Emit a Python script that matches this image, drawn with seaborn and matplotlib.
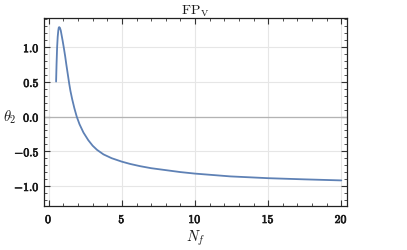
import matplotlib
matplotlib.use("Agg")
import matplotlib.pyplot as plt
import matplotlib.patheffects as pe
from matplotlib.ticker import MultipleLocator
import seaborn as sns
import pandas as pd

# values
nf = [0.50, 0.53, 0.57, 0.61, 0.65, 0.68, 0.71, 0.76, 0.82, 0.88, 0.95, 1.03,
      1.12, 1.20, 1.30, 1.40, 1.48, 1.60, 1.75, 1.91, 2.10, 2.37, 2.70, 3.00,
      3.30, 3.74, 4.30, 5.00, 5.57, 6.25, 7.00, 8.00, 9.00, 10.0, 12.4, 15.0,
      17.5, 20.0]
theta2 = [0.505, 0.75, 1.00, 1.15, 1.24, 1.28, 1.29, 1.28, 1.24, 1.17, 1.09, 0.99,
          0.87, 0.75, 0.61, 0.47, 0.37, 0.25, 0.12, 0.0, -0.11, -0.23, -0.34, -0.42,
          -0.48, -0.545, -0.60, -0.65, -0.683, -0.715, -0.744, -0.772, -0.80, -0.822,
          -0.862, -0.888, -0.905, -0.92]

xticks = [0, 5, 10, 15, 20]
yticks = [-1.0, -0.5, 0.0, 0.5, 1.0]

df = pd.DataFrame({"Nf": nf, "theta2": theta2})

sns.set_theme(style="ticks")
plt.rcParams["font.family"] = ["DejaVu Serif"]
plt.rcParams["mathtext.fontset"] = "cm"

fig = plt.figure(figsize=(4.07, 2.51), dpi=100)
ax = fig.add_axes([0.108, 0.175, 0.745, 0.749])

ax.grid(True, color="#e6e6e6", lw=0.8, zorder=0)
ax.axhline(0, color="#b3b3b3", lw=0.9, zorder=1)
sns.lineplot(data=df, x="Nf", y="theta2", ax=ax, color="#5e81b5", lw=1.3,
             sort=False, estimator=None, zorder=3)
ax.lines[-1].set_solid_joinstyle("round")

ax.set_xlim(-0.33, 20.4)
ax.set_ylim(-1.29, 1.42)
ax.set_xticks(xticks)
ax.set_xticklabels([r"$\mathbf{%d}$" % t for t in xticks])
ax.set_yticks(yticks)
ax.set_yticklabels([r"$\mathbf{%.1f}$" % t for t in yticks])
ax.xaxis.set_minor_locator(MultipleLocator(1))
ax.yaxis.set_minor_locator(MultipleLocator(0.1))
ax.tick_params(which="both", direction="in", top=True, right=True, color="#333333")
ax.tick_params(which="major", length=4, width=0.8, labelsize=8.5, pad=3,
               labelcolor="#1a1a1a")
ax.tick_params(which="minor", length=2, width=0.6)
ax.tick_params(axis="x", pad=5)
bold = [pe.withStroke(linewidth=0.5, foreground="#1a1a1a")]
for lab in ax.get_xticklabels() + ax.get_yticklabels():
    lab.set_path_effects(bold)
for s in ax.spines.values():
    s.set_color("#222222")
    s.set_linewidth(0.9)

ax.set_title(r"$\mathrm{FP}_\mathrm{V}$", fontsize=10, pad=3, color="#1a1a1a")
ax.set_xlabel(r"$N_f$", fontsize=10.5, color="#1a1a1a")
ax.set_ylabel(r"$\theta_2$", fontsize=10.5, rotation=0, color="#1a1a1a")
ax.xaxis.set_label_coords(0.5, -0.165)
ax.yaxis.set_label_coords(-0.112, 0.48)
ax.xaxis.label.set_va("center")
ax.yaxis.label.set_va("center")
ax.yaxis.label.set_ha("center")

fig.savefig("out.png", dpi=100)
